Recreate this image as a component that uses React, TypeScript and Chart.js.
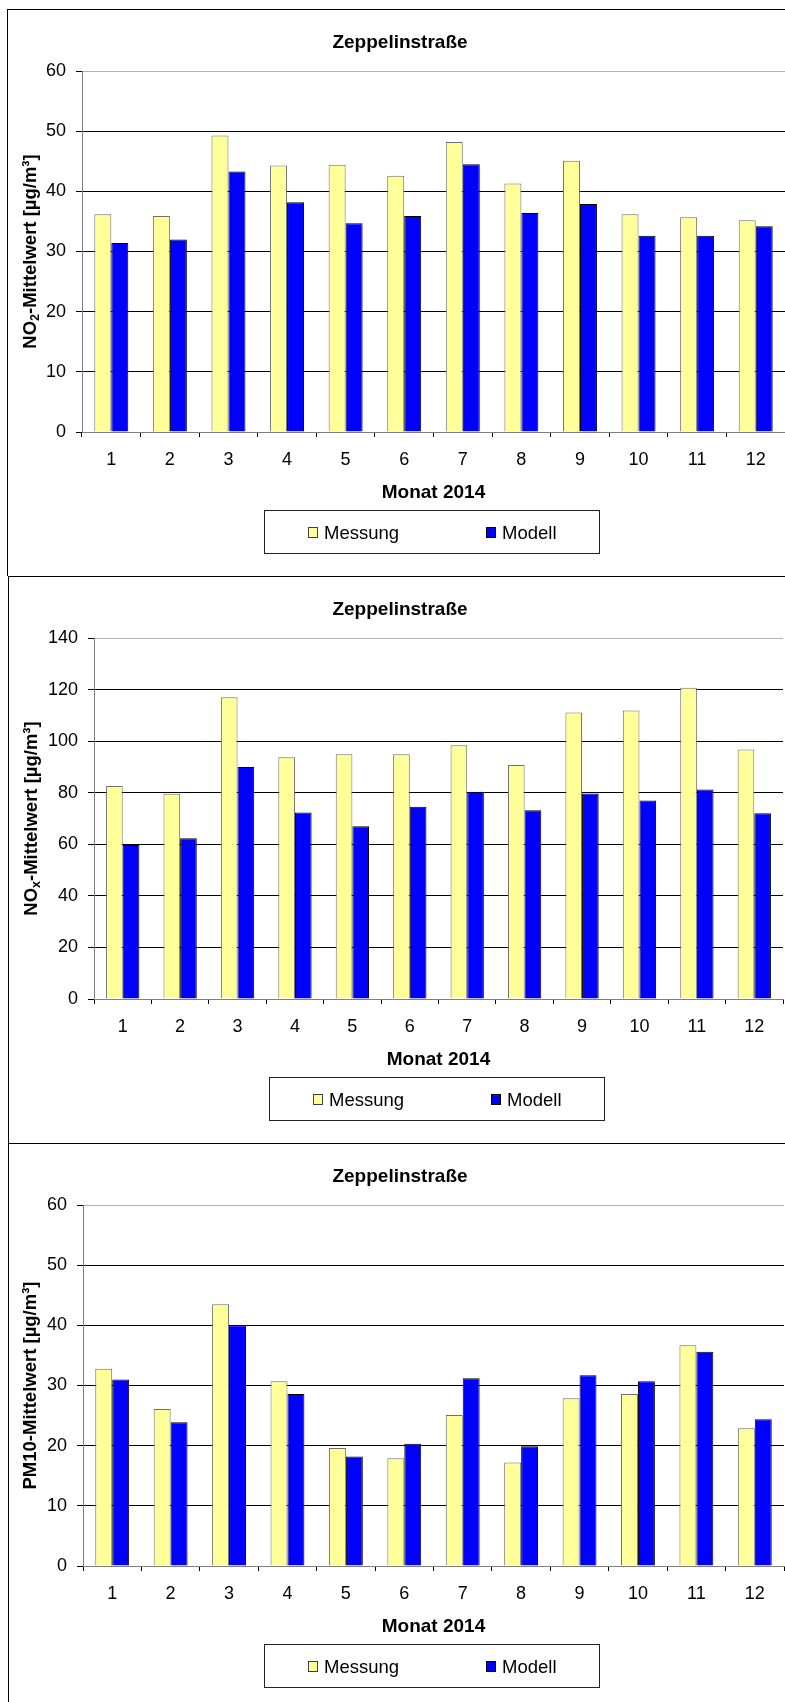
import React, { useEffect, useRef } from "react";
import { Chart, registerables } from "chart.js";

Chart.register(...registerables);

// ---------- data ----------
const months = ["1", "2", "3", "4", "5", "6", "7", "8", "9", "10", "11", "12"];
const seriesLabels = ["Messung", "Modell"];
const chartTitle = "Zeppelinstraße";
const xAxisTitle = "Monat 2014";

const no2Messung = [36.2, 35.9, 49.3, 44.3, 44.4, 42.6, 48.2, 41.3, 45.1, 36.2, 35.7, 35.2];
const no2Modell = [31.4, 32.0, 43.3, 38.2, 34.7, 35.9, 44.5, 36.4, 37.9, 32.6, 32.6, 34.2];

const noxMessung = [82.6, 79.6, 117.0, 93.8, 94.9, 94.9, 98.4, 90.7, 111.1, 111.9, 120.7, 96.8];
const noxModell = [59.7, 62.3, 90.0, 72.3, 67.0, 74.6, 80.4, 73.2, 79.7, 77.0, 81.2, 72.0];

const pm10Messung = [32.8, 26.1, 43.5, 30.7, 19.6, 17.9, 25.1, 17.2, 27.9, 28.6, 36.7, 22.9];
const pm10Modell = [31.0, 23.9, 40.0, 28.6, 18.2, 20.3, 31.2, 19.9, 31.7, 30.7, 35.6, 24.4];

// ---------- styling ----------
const FONT = '"Liberation Sans", Arial, sans-serif';
const CANVAS_W = 800;
const CANVAS_H = 567;
const PLOT_TOP = 62;
const PLOT_BOTTOM = 423;
const YELLOW = "#FFFF99";
const BLUE = "#0000FF";

type Panel = {
  top: number;
  borderLeft: number;
  plotLeft: number;
  plotRight: number;
  yMax: number;
  yStep: number;
  messung: number[];
  modell: number[];
  yPre: string;
  ySub: string;
  yPost: string;
  yTitleX: number;
};

const panels: Panel[] = [
  {
    top: 9, borderLeft: 7, plotLeft: 82, plotRight: 785, yMax: 60, yStep: 10,
    messung: no2Messung, modell: no2Modell,
    yPre: "NO", ySub: "2", yPost: "-Mittelwert [µg/m³]", yTitleX: 36,
  },
  {
    top: 576, borderLeft: 8, plotLeft: 94, plotRight: 783, yMax: 140, yStep: 20,
    messung: noxMessung, modell: noxModell,
    yPre: "NO", ySub: "x", yPost: "-Mittelwert [µg/m³]", yTitleX: 37,
  },
  {
    top: 1143, borderLeft: 8, plotLeft: 83, plotRight: 784, yMax: 60, yStep: 10,
    messung: pm10Messung, modell: pm10Modell,
    yPre: "PM10-Mittelwert [µg/m³]", ySub: "", yPost: "", yTitleX: 36,
  },
];

function ChartPanel({ cfg }: { cfg: Panel }) {
  const ref = useRef<HTMLCanvasElement | null>(null);

  useEffect(() => {
    if (!ref.current) return;
    const decor = {
      id: "decor",
      afterDraw(chart: any) {
        const ctx = chart.ctx as CanvasRenderingContext2D;
        const ca = chart.chartArea;
        ctx.save();
        // panel frame
        ctx.strokeStyle = "#000";
        ctx.lineWidth = 1;
        ctx.strokeRect(cfg.borderLeft + 0.5, 0.5, CANVAS_W, CANVAS_H + 20);
        // title
        ctx.fillStyle = "#000";
        ctx.font = `bold 19px ${FONT}`;
        ctx.textAlign = "center";
        ctx.textBaseline = "alphabetic";
        ctx.fillText(chartTitle, 400, 38.5);
        // x axis title
        const cx = (ca.left + ca.right) / 2;
        ctx.fillText(xAxisTitle, cx, 489);
        // legend
        const lw = 335;
        const lh = 43;
        const lx = Math.round(cx - 2 - lw / 2);
        const ly = 501;
        ctx.strokeStyle = "#222";
        ctx.strokeRect(lx + 0.5, ly + 0.5, lw, lh);
        chart.data.datasets.forEach((ds: any, i: number) => {
          const kx = lx + 44 + i * 178;
          ctx.fillStyle = ds.backgroundColor;
          ctx.fillRect(kx, ly + 17, 10, 11);
          ctx.strokeStyle = i === 0 ? "#404040" : "#000";
          ctx.strokeRect(kx + 0.5, ly + 17.5, 9, 10);
          ctx.fillStyle = "#000";
          ctx.font = `18.5px ${FONT}`;
          ctx.textAlign = "left";
          ctx.fillText(ds.label, kx + 16, ly + 29);
        });
        // y axis title (rotated, with subscript)
        ctx.translate(cfg.yTitleX, (ca.top + ca.bottom) / 2);
        ctx.rotate(-Math.PI / 2);
        const big = `bold 18.5px ${FONT}`;
        const small = `bold 12.5px ${FONT}`;
        ctx.font = big;
        const w1 = ctx.measureText(cfg.yPre).width;
        const w3 = ctx.measureText(cfg.yPost).width;
        ctx.font = small;
        const w2 = cfg.ySub ? ctx.measureText(cfg.ySub).width : 0;
        let x = -(w1 + w2 + w3) / 2;
        ctx.textAlign = "left";
        ctx.fillStyle = "#000";
        ctx.font = big;
        ctx.fillText(cfg.yPre, x, 0);
        x += w1;
        if (cfg.ySub) {
          ctx.font = small;
          ctx.fillText(cfg.ySub, x, 3);
          x += w2;
        }
        ctx.font = big;
        ctx.fillText(cfg.yPost, x, 0);
        ctx.restore();
      },
    };

    const chart = new Chart(ref.current, {
      type: "bar",
      data: {
        labels: months,
        datasets: [
          {
            label: seriesLabels[0],
            data: cfg.messung,
            backgroundColor: YELLOW,
            borderColor: "#6e6e6e",
            borderWidth: 1,
            categoryPercentage: 0.58,
            barPercentage: 1.0,
          },
          {
            label: seriesLabels[1],
            data: cfg.modell,
            backgroundColor: BLUE,
            borderColor: "#000",
            borderWidth: 1,
            categoryPercentage: 0.58,
            barPercentage: 1.0,
          },
        ],
      },
      options: {
        responsive: false,
        animation: false,
        devicePixelRatio: 1,
        layout: {
          padding: { top: PLOT_TOP, left: 0, right: CANVAS_W - cfg.plotRight, bottom: 0 },
        },
        plugins: {
          legend: { display: false },
          title: { display: false },
          tooltip: { enabled: false },
        },
        scales: {
          x: {
            afterFit: (s: any) => {
              s.height = CANVAS_H - PLOT_BOTTOM;
            },
            grid: {
              display: true,
              drawOnChartArea: false,
              drawTicks: true,
              tickLength: 5,
              color: "#000",
              offset: true,
            },
            border: { display: true, color: "#808080", width: 1 },
            ticks: {
              color: "#000",
              font: { family: FONT, size: 18 },
              padding: 12,
              maxRotation: 0,
              autoSkip: false,
            },
          },
          y: {
            min: 0,
            max: cfg.yMax,
            afterFit: (s: any) => {
              s.width = cfg.plotLeft;
            },
            grid: {
              color: (c: any) =>
                c.tick && c.tick.value === cfg.yMax
                  ? "#b4b4b4"
                  : c.tick && c.tick.value === 0
                  ? "#808080"
                  : "#000",
              tickColor: "#000",
              tickLength: 6,
              drawTicks: true,
            },
            border: { display: true, color: "#808080", width: 1 },
            ticks: {
              stepSize: cfg.yStep,
              color: "#000",
              font: { family: FONT, size: 18 },
              padding: 10,
            },
          },
        },
      },
      plugins: [decor],
    } as any);

    return () => chart.destroy();
  }, [cfg]);

  return (
    <canvas
      ref={ref}
      width={CANVAS_W}
      height={CANVAS_H}
      style={{
        position: "absolute",
        left: 0,
        top: cfg.top,
        width: CANVAS_W,
        height: CANVAS_H,
        display: "block",
      }}
    />
  );
}

export default function App() {
  return (
    <div
      style={{
        position: "absolute",
        left: 0,
        top: 0,
        width: 785,
        height: 1702,
        overflow: "hidden",
        background: "#fff",
      }}
    >
      {panels.map((p, i) => (
        <ChartPanel key={i} cfg={p} />
      ))}
    </div>
  );
}
